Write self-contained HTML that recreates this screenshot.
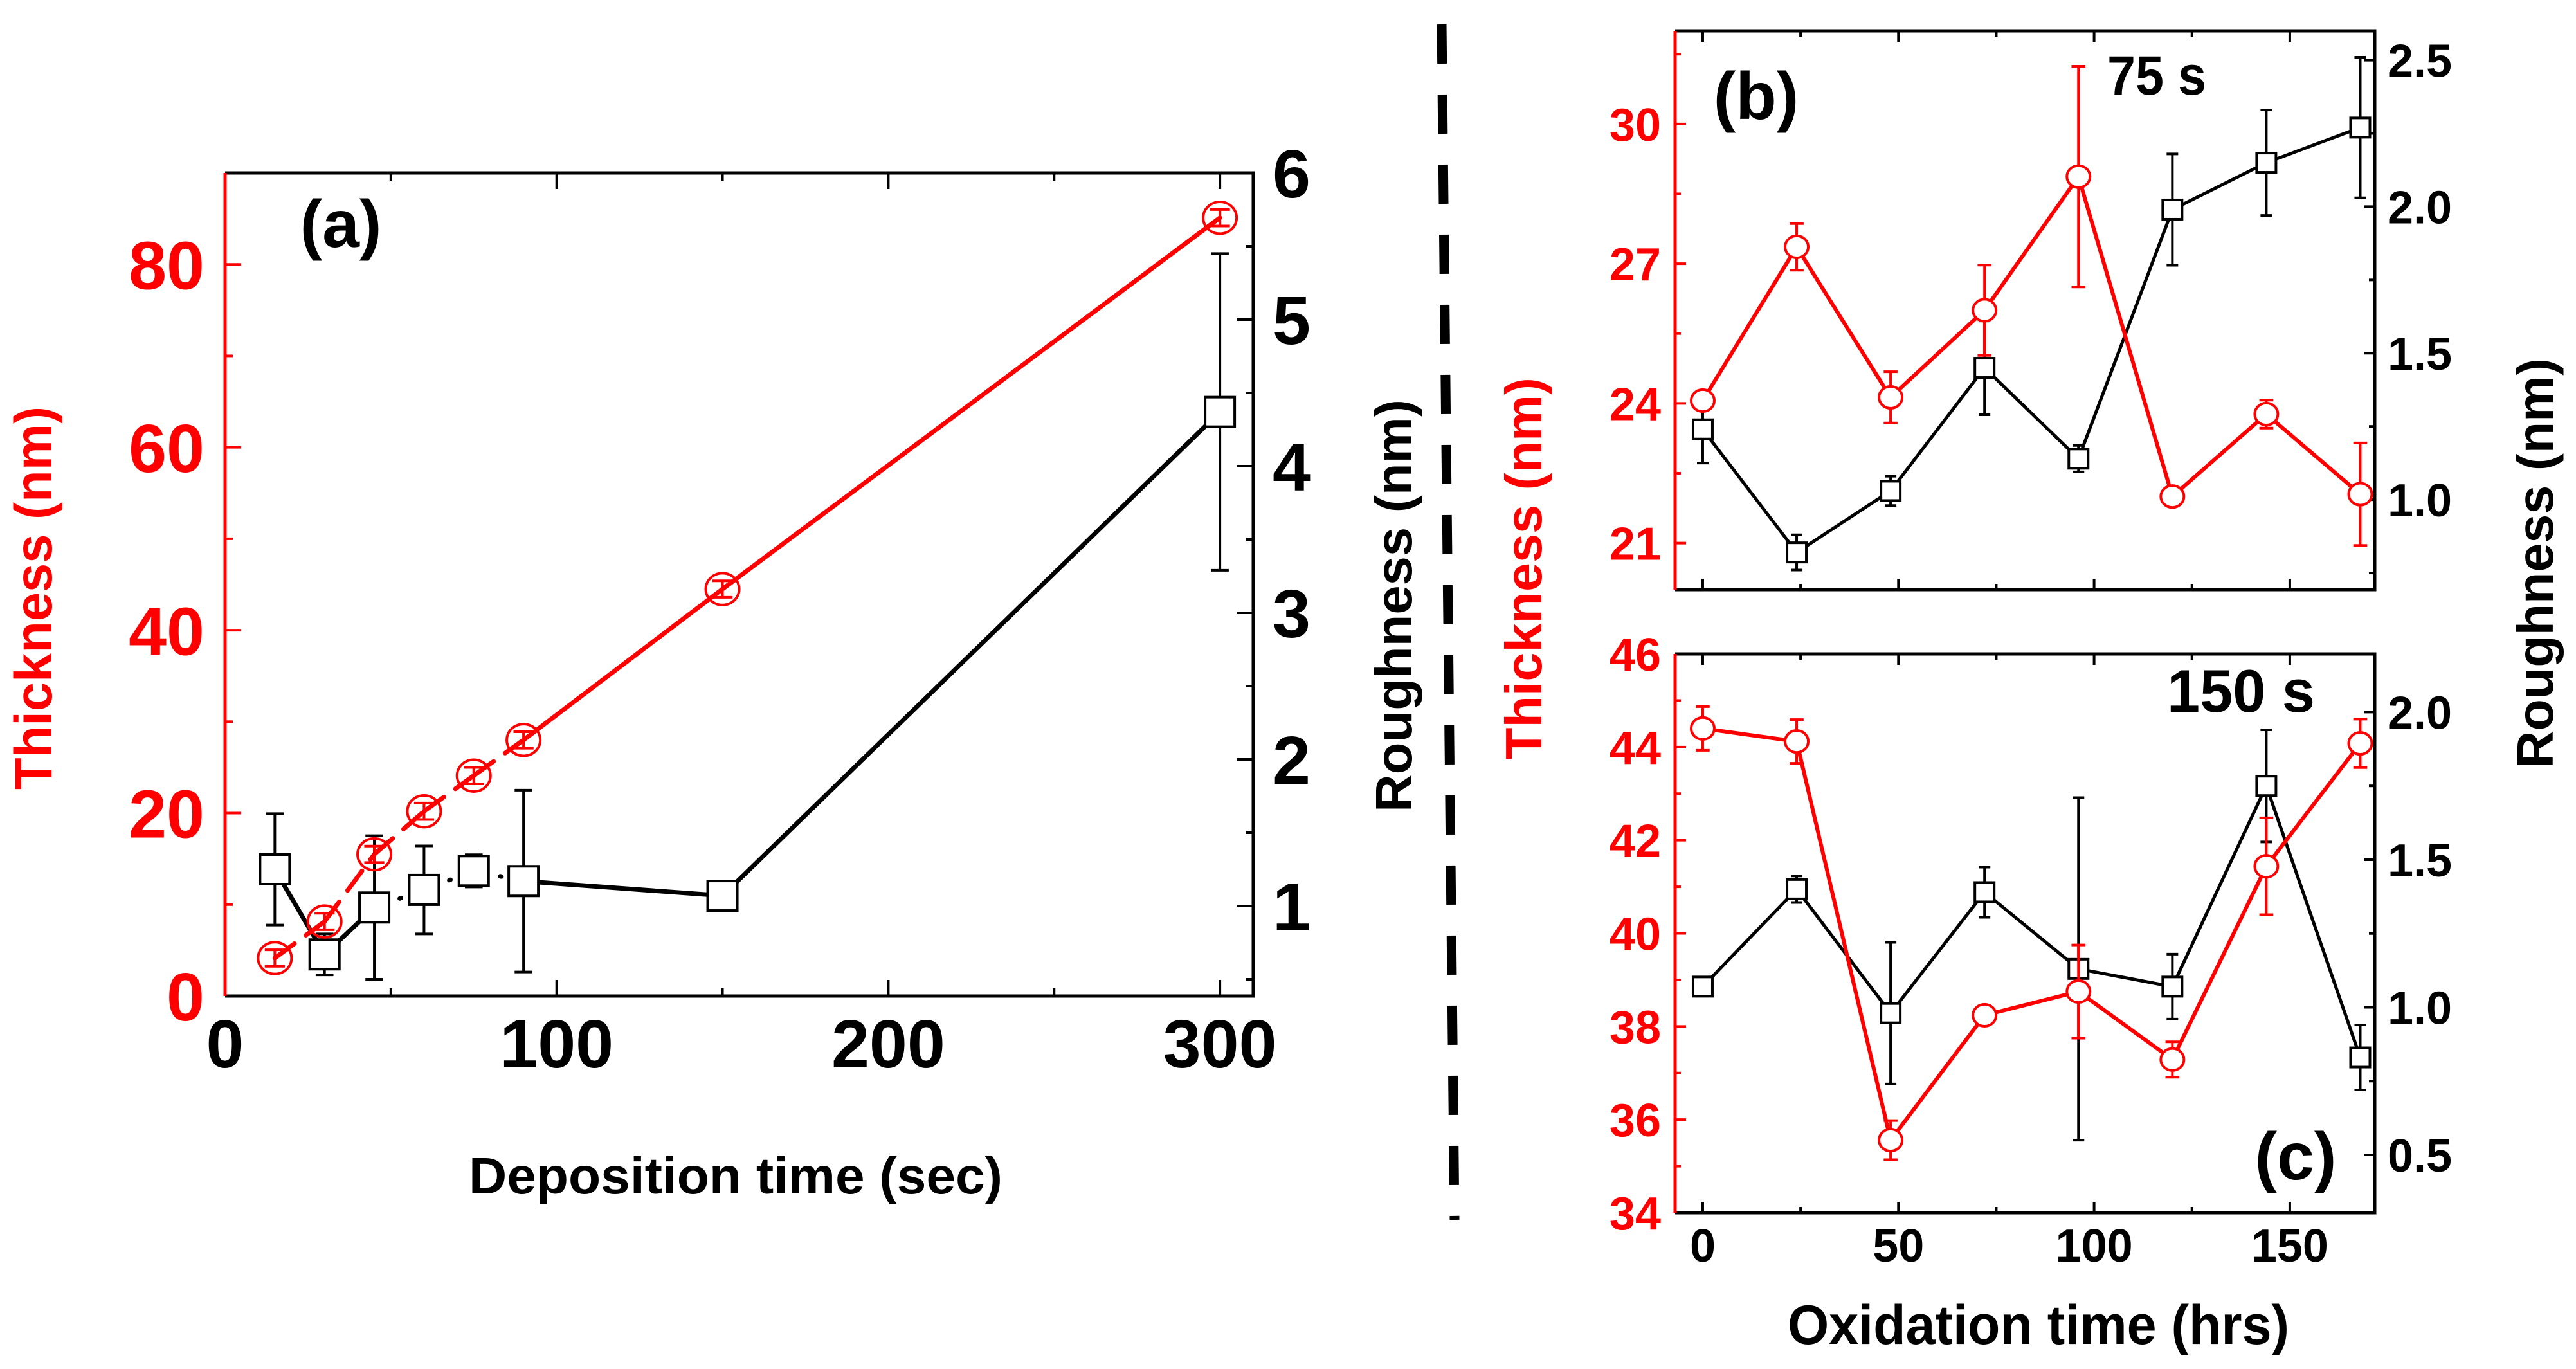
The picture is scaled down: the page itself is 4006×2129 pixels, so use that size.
<!DOCTYPE html>
<html><head><meta charset="utf-8"><style>
html,body{margin:0;padding:0;background:#fff;}
svg{display:block;font-family:"Liberation Sans",Arial,sans-serif;font-weight:bold;}
</style></head>
<body>
<svg id="fig" xmlns="http://www.w3.org/2000/svg" width="4006" height="2129" viewBox="0 0 4006 2129">
<rect width="4006" height="2129" fill="#fff"/>
<g id="root"></g>
</svg>
<script>
// ---- Panel (a) data ----
const aTime = [15, 30, 45, 60, 75, 90, 150, 300];
const aThick = [4.15, 8.15, 15.5, 20.2, 24.1, 28.0, 44.5, 85.1];
const aThickErr = [0.9, 0.9, 0.9, 0.9, 0.9, 0.9, 0.9, 0.9];
const aRough = [1.25, 0.67, 0.99, 1.11, 1.24, 1.17, 1.07, 4.37];
const aRoughErr = [0.38, 0.14, 0.49, 0.3, 0.11, 0.62, 0.07, 1.08];
const aXTicks = [0, 100, 200, 300];
const aYLTicks = [0, 20, 40, 60, 80];
const aYRTicks = [1, 2, 3, 4, 5, 6];
// ---- Panel (b) data (75 s) ----
const bcTime = [0, 24, 48, 72, 96, 120, 144, 168];
const bThick = [24.06, 27.36, 24.13, 26.0, 28.87, 22.0, 23.77, 22.05];
const bThickErr = [0.15, 0.5, 0.55, 0.97, 2.37, 0.1, 0.3, 1.1];
const bRough = [1.24, 0.82, 1.03, 1.45, 1.14, 1.99, 2.15, 2.27];
const bRoughErr = [0.115, 0.06, 0.05, 0.16, 0.045, 0.19, 0.18, 0.24];
const bYLTicks = [21, 24, 27, 30];
const bYRTicks = ["1.0", "1.5", "2.0", "2.5"];
// ---- Panel (c) data (150 s) ----
const cThick = [44.4, 44.12, 35.56, 38.24, 38.75, 37.29, 41.44, 44.08];
const cThickErr = [0.47, 0.47, 0.42, 0.1, 1.0, 0.38, 1.04, 0.52];
const cRough = [1.07, 1.40, 0.98, 1.39, 1.13, 1.07, 1.75, 0.83];
const cRoughErr = [0.01, 0.045, 0.24, 0.085, 0.58, 0.11, 0.19, 0.11];
const cYLTicks = [34, 36, 38, 40, 42, 44, 46];
const cYRTicks = ["0.5", "1.0", "1.5", "2.0"];
const bcXTicks = [0, 50, 100, 150];

const NS = "http://www.w3.org/2000/svg";
const root = document.getElementById("root");
function el(tag, attrs, parent) {
  const e = document.createElementNS(NS, tag);
  for (const k in attrs) e.setAttribute(k, attrs[k]);
  (parent || root).appendChild(e);
  return e;
}
function lin(d0, d1, r0, r1) { return v => r0 + (v - d0) * (r1 - r0) / (d1 - d0); }
const RED = "#ff0000";

function drawPanel(p) {
  const g = el("g", {});
  
  
  const {x, yl, yr, L, R, T, B} = p;
  // frame
  const fr = el("path", {d:`M${L},${T}H${R}V${B}H${L}`, fill:"none", stroke:"#000", "stroke-width":5}, g);
  
  
  const la = el("line", {x1:L, y1:T, x2:L, y2:B, stroke:RED, "stroke-width":5}, g);
  
  
  // x ticks
  p.xMinor.forEach(v => {
    const px = x(v);
    const big = p.xMajorSet.includes(v);
    const len = big ? p.majLen : p.minLen;
    el("line", {x1:px, y1:B, x2:px, y2:B - len, stroke:"#000", "stroke-width":4}, g);
    el("line", {x1:px, y1:T, x2:px, y2:T + len, stroke:"#000", "stroke-width":4}, g);
  });
  if (p.xLabels) p.xLabels.forEach(v => {
    const t = el("text", {x:x(v), y:p.xLabY, "text-anchor":"middle", "font-size":p.tickFs, fill:"#000"}, g);
    t.textContent = v;
    
    
  });
  // left ticks
  p.ylMinor.forEach(v => {
    const py = yl(v);
    const big = p.ylMajor.includes(v);
    el("line", {x1:L, y1:py, x2:L + (big ? p.majLen : p.minLen), y2:py, stroke:RED, "stroke-width":4}, g);
  });
  p.ylMajor.forEach(v => {
    const t = el("text", {x:L - p.lLabGap, y:yl(v) + p.tickFs * 0.36, "text-anchor":"end", "font-size":p.tickFs, fill:RED}, g);
    t.textContent = v;
    
    
  });
  // right ticks
  p.yrMinor.forEach(v => {
    const py = yr(v);
    const big = p.yrMajor.map(Number).includes(v);
    el("line", {x1:R, y1:py, x2:R - (big ? p.majLen : p.minLen), y2:py, stroke:"#000", "stroke-width":4}, g);
  });
  p.yrMajor.forEach(v => {
    const t = el("text", {x:R + p.rLabGap, y:yr(Number(v)) + p.tickFs * 0.36, "text-anchor":"start", "font-size":p.tickFs, fill:"#000"}, g);
    t.textContent = v;
    
    
  });
  return g;
}

function drawSeries(g, xs, ys, errs, xf, yf, color, kind, sz, lw, styles, innerErr) {
  // lines
  for (let i = 0; i < xs.length - 1; i++) {
    const ln = el("line", {x1:xf(xs[i]), y1:yf(ys[i]), x2:xf(xs[i+1]), y2:yf(ys[i+1]), stroke:color, "stroke-width":lw, "stroke-linecap":"round"}, g);
    if (styles && styles[i]) ln.setAttribute("stroke-dasharray", styles[i]);
    
    
  }
  // error bars + markers
  xs.forEach((xv, i) => {
    const cx = xf(xv), cy = yf(ys[i]);
    const yt = yf(ys[i] + errs[i]), yb = yf(ys[i] - errs[i]);
    const cap = sz * 0.6;
    const eb = el("path", {d:`M${cx},${yt}V${yb}M${cx-cap},${yt}H${cx+cap}M${cx-cap},${yb}H${cx+cap}`, stroke:color, "stroke-width":4, fill:"none"}, g);
    
    
    let m;
    if (kind === "circle") {
      m = el("ellipse", {cx:cx, cy:cy, rx:sz, ry:sz * 0.95, fill:innerErr ? "none" : "#fff", stroke:color, "stroke-width":4}, g);
      
    } else {
      m = el("rect", {x:cx - sz, y:cy - sz, width:2 * sz, height:2 * sz, fill:innerErr ? "none" : "#fff", stroke:color, "stroke-width":4}, g);
      
    }
    
    if (!innerErr) {
      // redraw error stubs over white-filled marker only outside
    }
  });
}

// ---------- Panel (a) ----------
const A = {L:350, R:1949, T:269, B:1549};
A.x = lin(0, 310, A.L, A.L + 310 * 5.157);
A.yl = lin(0, 90, A.B, A.T);
A.yr = lin(0.386, 6.0, A.B, A.T);
const gA = drawPanel(Object.assign({name:"panel-a", xMinor:[50,100,150,200,250,300], xMajorSet:[100,200,300], xLabels:aXTicks, xLabY:1660,
  ylMinor:[10,20,30,40,50,60,70,80], ylMajor:aYLTicks, yrMinor:[0.5,1,1.5,2,2.5,3,3.5,4,4.5,5,5.5], yrMajor:aYRTicks,
  tickFs:106, majLen:25, minLen:12, lLabGap:32, rLabGap:30}, A));
drawSeries(gA, aTime, aRough, aRoughErr, A.x, A.yr, "#000", "square", 23, 7,
  [null, null, "2 40", "2 40", "2 40", null, null], false);
drawSeries(gA, aTime, aThick, aThickErr, A.x, A.yl, RED, "circle", 26, 7,
  ["38 22", "38 22", "38 22", "38 22", "38 22", null, null], true);

// ---------- Panel (b) ----------
const Bp = {L:2605, R:3693, T:48, B:917};
Bp.x = lin(-7.06, 171.7, Bp.L, Bp.R);
Bp.yl = lin(20, 32, Bp.B, Bp.T);
Bp.yr = lin(0.693, 2.6, Bp.B, Bp.T);
const gB = drawPanel(Object.assign({name:"panel-b", xMinor:[0,25,50,75,100,125,150], xMajorSet:[0,50,100,150], xLabels:null, xLabY:0,
  ylMinor:[21,22.5,24,25.5,27,28.5,30,31.5], ylMajor:bYLTicks, yrMinor:[0.75,1,1.25,1.5,1.75,2,2.25,2.5], yrMajor:bYRTicks,
  tickFs:72, majLen:17, minLen:9, lLabGap:22, rLabGap:20}, Bp));
drawSeries(gB, bcTime, bRough, bRoughErr, Bp.x, Bp.yr, "#000", "square", 15, 5, null, false);
drawSeries(gB, bcTime, bThick, bThickErr, Bp.x, Bp.yl, RED, "circle", 18, 6, null, false);

// ---------- Panel (c) ----------
const Cp = {L:2605, R:3693, T:1017, B:1886};
Cp.x = Bp.x;
Cp.yl = lin(34, 46, Cp.B, Cp.T);
Cp.yr = lin(0.304, 2.197, Cp.B, Cp.T);
const gC = drawPanel(Object.assign({name:"panel-c", xMinor:[0,25,50,75,100,125,150], xMajorSet:[0,50,100,150], xLabels:bcXTicks, xLabY:1962,
  ylMinor:[35,36,37,38,39,40,41,42,43,44,45], ylMajor:cYLTicks, yrMinor:[0.5,0.75,1,1.25,1.5,1.75,2], yrMajor:cYRTicks,
  tickFs:72, majLen:17, minLen:9, lLabGap:22, rLabGap:20}, Cp));
drawSeries(gC, bcTime, cRough, cRoughErr, Cp.x, Cp.yr, "#000", "square", 15, 5, null, false);
drawSeries(gC, bcTime, cThick, cThickErr, Cp.x, Cp.yl, RED, "circle", 18, 6, null, false);
</script>
<svg style="position:absolute;left:0;top:0" width="4006" height="2129" xmlns="http://www.w3.org/2000/svg" font-family="Liberation Sans, Arial, sans-serif" font-weight="bold">
  <text x="530" y="384" text-anchor="middle" font-size="104" fill="#000">(a)</text>
  <text x="2731" y="185" text-anchor="middle" font-size="104" fill="#000">(b)</text>
  <text x="3570" y="1834" text-anchor="middle" font-size="104" fill="#000">(c)</text>
  <text x="3277" y="147" font-size="86" textLength="154" lengthAdjust="spacingAndGlyphs" fill="#000">75 s</text>
  <text x="3370" y="1107" font-size="94" textLength="230" lengthAdjust="spacingAndGlyphs" fill="#000">150 s</text>
  <text transform="translate(80,930) rotate(-90)" text-anchor="middle" font-size="82" textLength="596" lengthAdjust="spacingAndGlyphs" fill="#ff0000">Thickness (nm)</text>
  <text transform="translate(2195,942) rotate(-90)" text-anchor="middle" font-size="80" textLength="642" lengthAdjust="spacingAndGlyphs" fill="#000">Roughness (nm)</text>
  <text transform="translate(2397,884) rotate(-90)" text-anchor="middle" font-size="80" textLength="594" lengthAdjust="spacingAndGlyphs" fill="#ff0000">Thickness (nm)</text>
  <text transform="translate(3970,876) rotate(-90)" text-anchor="middle" font-size="80" textLength="638" lengthAdjust="spacingAndGlyphs" fill="#000">Roughness (nm)</text>
  <text x="1144" y="1856" text-anchor="middle" font-size="80" textLength="830" lengthAdjust="spacingAndGlyphs" fill="#000">Deposition time (sec)</text>
  <text x="3170" y="2090" text-anchor="middle" font-size="86" textLength="780" lengthAdjust="spacingAndGlyphs" fill="#000">Oxidation time (hrs)</text>
  <line x1="2242" y1="38" x2="2262" y2="1897" stroke="#000" stroke-width="15" stroke-dasharray="61 48"/>
</svg>
</body></html>
